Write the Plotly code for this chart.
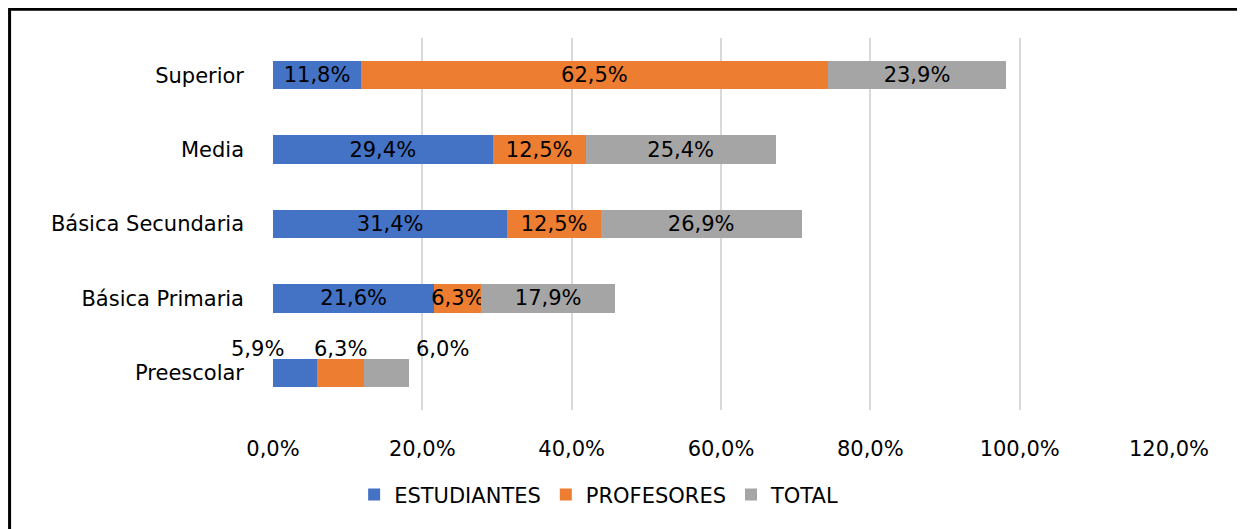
import plotly.graph_objects as go

# Datos (porcentajes)
niveles = ["Preescolar", "Básica Primaria", "Básica Secundaria", "Media", "Superior"]
estudiantes = [5.9, 21.6, 31.4, 29.4, 11.8]
profesores = [6.3, 6.3, 12.5, 12.5, 62.5]
total = [6.0, 17.9, 26.9, 25.4, 23.9]
x_ticks = [0, 20, 40, 60, 80, 100, 120]

series = [
    ("ESTUDIANTES", estudiantes, "#4472C4"),
    ("PROFESORES", profesores, "#ED7D31"),
    ("TOTAL", total, "#A5A5A5"),
]

FONT = "DejaVu Sans"
FS = 21


def fmt(v):
    return f"{v:.1f}%".replace(".", ",")


fig = go.Figure()
for name, vals, color in series:
    # Preescolar lleva las etiquetas fuera de la barra (anotaciones)
    labels = ["" if n == "Preescolar" else fmt(v) for n, v in zip(niveles, vals)]
    fig.add_trace(go.Bar(
        name=name, y=niveles, x=vals, orientation="h",
        marker=dict(color=color, line=dict(width=0)),
        text=labels, textposition="inside", insidetextanchor="middle",
        textangle=0, insidetextfont=dict(color="#000000", size=FS, family=FONT),
        hoverinfo="x+name",
    ))

# Etiquetas desplazadas para Preescolar
idx = niveles.index("Preescolar")
acum = 0
shifts = [-38, 0, 56]
anns = []
for (name, vals, color), sh in zip(series, shifts):
    v = vals[idx]
    anns.append(dict(
        x=acum + v / 2, y="Preescolar", xref="x", yref="y", text=fmt(v),
        showarrow=False, xshift=sh, yshift=24,
        font=dict(size=FS, color="#000000", family=FONT),
    ))
    acum += v

fig.update_layout(
    width=1245, height=529,
    barmode="stack", bargap=0.62,
    separators=",.",
    plot_bgcolor="white", paper_bgcolor="white",
    margin=dict(l=265, r=84, t=30, b=127),
    font=dict(family=FONT, size=FS, color="#000000"),
    uniformtext=dict(minsize=FS, mode="show"),
    annotations=anns,
    legend=dict(orientation="h", x=0.364, xanchor="center", y=-0.228,
                yanchor="middle", font=dict(size=FS, family=FONT),
                traceorder="normal", itemwidth=30),
    shapes=[dict(type="rect", xref="paper", yref="paper",
                 x0=-0.294, x1=1.2, y0=-0.5, y1=1.077,
                 line=dict(color="#000000", width=3), layer="below")],
    showlegend=True,
)
fig.update_xaxes(
    range=[0, 120], tickvals=x_ticks,
    ticktext=[fmt(t) for t in x_ticks],
    showgrid=True, gridcolor="#D9D9D9", gridwidth=2,
    zeroline=False, showline=False, ticklabelstandoff=24,
    tickfont=dict(size=FS, family=FONT), fixedrange=True,
)
fig.update_yaxes(
    showgrid=False, zeroline=False, showline=False,
    ticklabelstandoff=28, tickfont=dict(size=FS, family=FONT),
)

fig.write_html("out.html")
